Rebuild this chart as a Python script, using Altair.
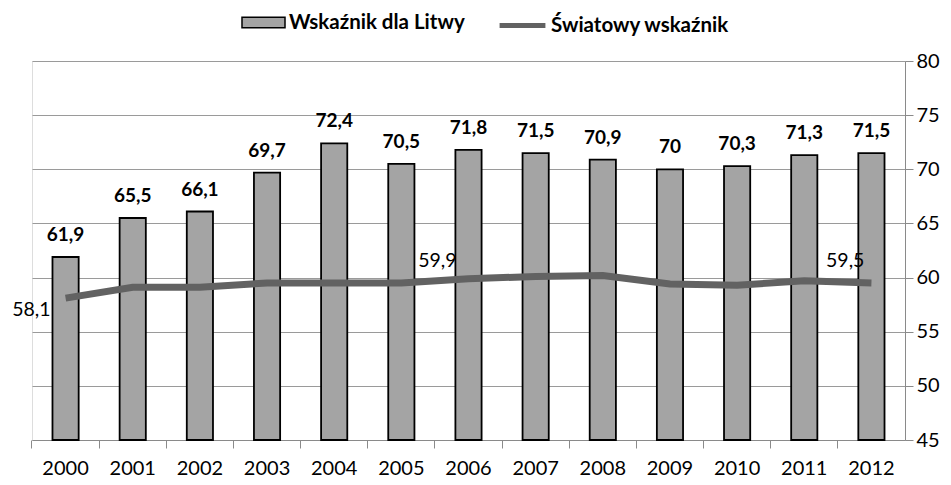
import altair as alt
import pandas as pd

years = ["2000", "2001", "2002", "2003", "2004", "2005", "2006",
         "2007", "2008", "2009", "2010", "2011", "2012"]
lithuania = [61.9, 65.5, 66.1, 69.7, 72.4, 70.5, 71.8, 71.5, 70.9, 70.0, 70.3, 71.3, 71.5]
world = [58.1, 59.1, 59.1, 59.5, 59.5, 59.5, 59.9, 60.1, 60.2, 59.4, 59.3, 59.7, 59.5]
series_bar = "Wskaźnik dla Litwy"
series_line = "Światowy wskaźnik"

df = pd.DataFrame({
    "year": years,
    "lt": lithuania,
    "world": world,
    "s1": [series_bar] * len(years),
    "s2": [series_line] * len(years),
})

FONT = "Lato"

x = alt.X("year:N", sort=years, title=None,
          scale=alt.Scale(paddingInner=0, paddingOuter=0),
          axis=alt.Axis(labelAngle=0, bandPosition=0, tickSize=8, grid=False,
                        domainColor="#8a8a8a", tickColor="#8a8a8a", labelPadding=10,
                        labelFontSize=20, labelFont=FONT, labelColor="#000"))
yscale = alt.Scale(domain=[45, 80], nice=False, zero=False)
yaxis = alt.Axis(orient="right", values=[45, 50, 55, 60, 65, 70, 75, 80], grid=True,
                 gridColor="#9a9a9a", domainColor="#8a8a8a", tickColor="#8a8a8a", tickSize=8,
                 labelPadding=3, labelFontSize=20, labelFont=FONT, labelColor="#000",
                 title=None)

base = alt.Chart(df)

bars = base.mark_bar(stroke="black", strokeWidth=1.8, width=alt.RelativeBandSize(0.39)).encode(
    x=x,
    y=alt.Y("lt:Q", scale=yscale, axis=yaxis),
    y2=alt.datum(45),
    fill=alt.Fill("s1:N", scale=alt.Scale(range=["#a4a4a4"]),
                  legend=alt.Legend(title=None, orient="none", legendX=209, legendY=-61,
                                    symbolType="M-1,-0.24L1,-0.24L1,0.24L-1,0.24Z",
                                    symbolSize=1850, symbolStrokeColor="black",
                                    symbolStrokeWidth=1.5, labelFontSize=20.5,
                                    labelFont=FONT, labelFontWeight="bold",
                                    labelColor="#000", labelOffset=3, labelLimit=400)),
)

bar_labels = base.mark_text(baseline="bottom", dy=-12, fontSize=19, fontWeight="bold",
                            font=FONT, color="#000").encode(
    x=x,
    y=alt.Y("lt:Q", scale=yscale),
    text=alt.Text("lt_lbl:N"),
).transform_calculate(lt_lbl="replace(toString(datum.lt), '.', ',')")

line = base.mark_line(strokeWidth=7).encode(
    x=x,
    y=alt.Y("world:Q", scale=yscale),
    stroke=alt.Stroke("s2:N", scale=alt.Scale(range=["#626262"]),
                      legend=alt.Legend(title=None, orient="none", legendX=465, legendY=-61,
                                        symbolType="stroke", symbolSize=2100,
                                        symbolStrokeWidth=5, labelFontSize=20.5,
                                        labelFont=FONT, labelFontWeight="bold",
                                        labelColor="#000", labelOffset=3, labelLimit=400)),
)

wl = base.transform_calculate(w_lbl="replace(toString(datum.world), '.', ',')")
lbl_2000 = wl.transform_filter(alt.datum.year == "2000").mark_text(
    align="right", baseline="middle", dx=-15, dy=12, fontSize=19.5, font=FONT, color="#000"
).encode(x=x, y=alt.Y("world:Q", scale=yscale), text="w_lbl:N")
lbl_2006 = wl.transform_filter(alt.datum.year == "2006").mark_text(
    align="right", baseline="middle", dx=-12, dy=-18, fontSize=19.5, font=FONT, color="#000"
).encode(x=x, y=alt.Y("world:Q", scale=yscale), text="w_lbl:N")
lbl_2012 = wl.transform_filter(alt.datum.year == "2012").mark_text(
    align="right", baseline="middle", dx=-7, dy=-22, fontSize=19.5, font=FONT, color="#000"
).encode(x=x, y=alt.Y("world:Q", scale=yscale), text="w_lbl:N")

chart = alt.layer(bars, bar_labels, line, lbl_2000, lbl_2006, lbl_2012).properties(
    width=873, height=379,
    autosize=alt.AutoSizeParams(type="none"),
    padding={"left": 24, "top": 53, "right": 38, "bottom": 37},
).configure_view(stroke="transparent", fill="#e4e4e4").configure(background="white")

chart.save("out.html", embed_options={"renderer": "svg", "actions": False})
